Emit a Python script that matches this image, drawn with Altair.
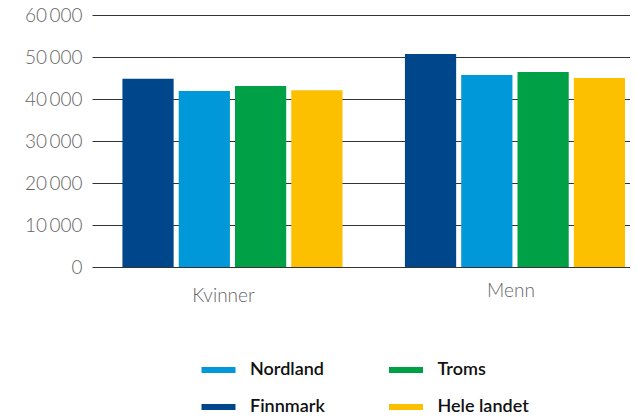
import altair as alt
import pandas as pd

categories = ["Kvinner", "Menn"]
regions = ["Finnmark", "Nordland", "Troms", "Hele landet"]
finnmark = [44800, 50700]
nordland = [41900, 45700]
troms = [43100, 46400]
hele_landet = [42100, 45000]

legend_order = ["Nordland", "Troms", "Finnmark", "Hele landet"]
colors = {"Finnmark": "#00468B", "Nordland": "#0098D8", "Troms": "#00A046", "Hele landet": "#FCC000"}

rows = []
for series, vals in zip(regions, [finnmark, nordland, troms, hele_landet]):
    for c, v in zip(categories, vals):
        rows.append({"kjønn": c, "region": series, "verdi": v})
df = pd.DataFrame(rows)

label_font = "Lato"

chart = alt.Chart(df).mark_bar().encode(
    x=alt.X(
        "kjønn:N",
        sort=categories,
        title=None,
        scale=alt.Scale(paddingInner=0.221, paddingOuter=0.0627, align=0.859),
        axis=alt.Axis(
            labelAngle=0,
            domain=False,
            ticks=False,
            labelFont=label_font,
            labelFontWeight=300,
            labelFontSize=19,
            labelColor="#666666",
            labelBaseline="top",
            labelPadding=alt.condition("datum.value == 'Kvinner'", alt.value(19), alt.value(14)),
            labelOffset=alt.condition("datum.value == 'Kvinner'", alt.value(-9), alt.value(-4)),
        ),
    ),
    xOffset=alt.XOffset("region:N", sort=regions, scale=alt.Scale(paddingInner=0.09, paddingOuter=0)),
    y=alt.Y(
        "verdi:Q",
        title=None,
        scale=alt.Scale(domain=[0, 60000], nice=False),
        axis=alt.Axis(
            values=[0, 10000, 20000, 30000, 40000, 50000, 60000],
            labelExpr="replace(format(datum.value, ','), ',', '\u2009')",
            domain=False,
            ticks=False,
            grid=True,
            gridColor="#333333",
            gridWidth=1,
            labelFont=label_font,
            labelFontWeight=300,
            labelFontSize=19,
            labelColor="#666666",
            labelPadding=10,
        ),
    ),
    color=alt.Color(
        "region:N",
        scale=alt.Scale(domain=legend_order, range=[colors[r] for r in legend_order]),
        legend=alt.Legend(
            title=None,
            orient="none",
            legendX=117.5,
            legendY=346,
            columns=2,
            direction="horizontal",
            columnPadding=63.5,
            rowPadding=19,
            padding=0,
            symbolType="M-2,-0.34H2V0.34H-2Z",
            symbolSize=289,
            symbolStrokeWidth=0,
            labelOffset=22.5,
            labelFont=label_font,
            labelFontWeight=600,
            labelFontSize=18,
            labelColor="#111111",
        ),
    ),
).properties(
    width=538,
    height=252,
    autosize=alt.AutoSizeParams(type="none"),
    padding={"left": 84, "top": 7, "right": 0, "bottom": 152},
).configure_view(stroke=None)

chart.save("out.html", embed_options={"renderer": "svg", "actions": False})
